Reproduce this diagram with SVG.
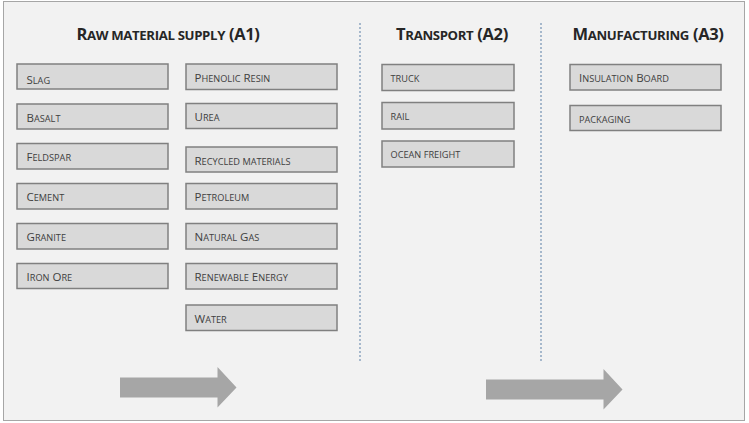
<svg xmlns="http://www.w3.org/2000/svg" width="749" height="423" viewBox="0 0 749 423">
<style>
.bg{fill:#f2f2f2;stroke:#a6a6a6;stroke-width:1}
.box rect{fill:#d9d9d9;stroke:#808080;stroke-width:1.5}
.box text{font-family:"Open Sans","Liberation Sans",sans-serif;font-size:11.5px;fill:#404040}
.box .s{font-size:9.2px}
.hdr{font-family:"Open Sans","Liberation Sans",sans-serif;font-size:16.5px;font-weight:bold;fill:#262626;text-anchor:middle;letter-spacing:-0.35px}
.hdr .s{font-size:13.2px}
.div{stroke:#5b7fa6;stroke-width:1;stroke-dasharray:2,2}
.arr{fill:#a6a6a6}
</style>
<rect class="bg" x="3.5" y="1.5" width="741" height="419"/>
<g id="headers">
<text class="hdr" x="168" y="40">R<tspan class="s">AW MATERIAL SUPPLY</tspan> (A1)</text>
<text class="hdr" x="452" y="40">T<tspan class="s">RANSPORT</tspan> (A2)</text>
<text class="hdr" x="648" y="40">M<tspan class="s">ANUFACTURING</tspan> (A3)</text>
</g>
<g id="connectors">
<line class="div" x1="360" y1="23" x2="360" y2="362"/>
<line class="div" x1="541" y1="23" x2="541" y2="362"/>
<polygon class="arr" points="120,377.5 217.5,377.5 217.5,367 236.5,387.5 217.5,407.5 217.5,397.5 120,397.5"/>
<polygon class="arr" points="486,379.5 603.5,379.5 603.5,369 622.5,389.5 603.5,409.5 603.5,399.5 486,399.5"/>
</g>
<g id="slag" class="box"><rect x="17" y="64" width="151" height="25"/><text x="26.5" y="83.5">S<tspan class="s">LAG</tspan></text></g>
<g id="basalt" class="box"><rect x="17" y="104" width="151" height="25"/><text x="26.5" y="121.5">B<tspan class="s">ASALT</tspan></text></g>
<g id="feldspar" class="box"><rect x="17" y="143.5" width="151" height="25.5"/><text x="26.5" y="160.5">F<tspan class="s">ELDSPAR</tspan></text></g>
<g id="cement" class="box"><rect x="17" y="183.5" width="151" height="25.5"/><text x="26.5" y="201">C<tspan class="s">EMENT</tspan></text></g>
<g id="granite" class="box"><rect x="17" y="223.5" width="151" height="25.5"/><text x="26.5" y="241">G<tspan class="s">RANITE</tspan></text></g>
<g id="ironore" class="box"><rect x="17" y="263.5" width="151" height="25"/><text x="26.5" y="280.5">I<tspan class="s">RON</tspan> O<tspan class="s">RE</tspan></text></g>
<g id="phenolic" class="box"><rect x="186" y="64" width="151" height="25.5"/><text x="194.5" y="81.5">P<tspan class="s">HENOLIC</tspan> R<tspan class="s">ESIN</tspan></text></g>
<g id="urea" class="box"><rect x="186" y="103.5" width="151" height="25"/><text x="194.5" y="120.5">U<tspan class="s">REA</tspan></text></g>
<g id="recycled" class="box"><rect x="186" y="147" width="151" height="25"/><text x="194.5" y="164.5">R<tspan class="s">ECYCLED MATERIALS</tspan></text></g>
<g id="petroleum" class="box"><rect x="186" y="183.5" width="151" height="25.5"/><text x="194.5" y="200.5">P<tspan class="s">ETROLEUM</tspan></text></g>
<g id="naturalgas" class="box"><rect x="186" y="223.5" width="151" height="25.5"/><text x="194.5" y="240.5">N<tspan class="s">ATURAL</tspan> G<tspan class="s">AS</tspan></text></g>
<g id="renewable" class="box"><rect x="186" y="263.5" width="151" height="25.5"/><text x="194.5" y="280.5">R<tspan class="s">ENEWABLE</tspan> E<tspan class="s">NERGY</tspan></text></g>
<g id="water" class="box"><rect x="186" y="305" width="151" height="25.5"/><text x="194.5" y="322.5">W<tspan class="s">ATER</tspan></text></g>
<g id="truck" class="box"><rect x="382" y="64.5" width="132" height="26"/><text x="390.5" y="82"><tspan class="s">TRUCK</tspan></text></g>
<g id="rail" class="box"><rect x="382" y="102.5" width="132" height="26.5"/><text x="390.5" y="120"><tspan class="s">RAIL</tspan></text></g>
<g id="ocean" class="box"><rect x="382" y="141" width="132" height="26"/><text x="390.5" y="158"><tspan class="s">OCEAN FREIGHT</tspan></text></g>
<g id="insulation" class="box"><rect x="570" y="64.5" width="151" height="25.5"/><text x="579" y="82">I<tspan class="s">NSULATION</tspan> B<tspan class="s">OARD</tspan></text></g>
<g id="packaging" class="box"><rect x="570" y="105.5" width="151" height="25"/><text x="579" y="122.5"><tspan class="s">PACKAGING</tspan></text></g>
</svg>
